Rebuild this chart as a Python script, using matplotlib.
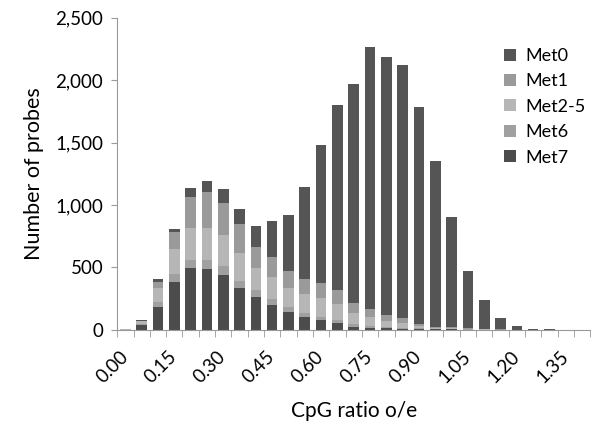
import matplotlib
matplotlib.use("Agg")
import matplotlib.pyplot as plt
import numpy as np

plt.rcParams['font.family'] = ['Lato', 'DejaVu Sans']

# CpG ratio bins, 0.00 .. 1.40 step 0.05
bins = ["%.2f" % (0.05 * i) for i in range(29)]

# stacked counts per bin (bottom -> top: Met7, Met6, Met2-5, Met1, Met0)
met7 = [2, 40, 187, 387, 493, 485, 440, 333, 267, 200, 147, 100, 77, 53, 27, 19,
        12, 10, 6, 4, 3, 2, 1, 1, 0, 0, 0, 0, 0]
met6 = [0, 8, 35, 60, 70, 75, 70, 60, 50, 45, 40, 35, 30, 25, 20, 15,
        10, 8, 5, 3, 2, 1, 1, 0, 0, 0, 0, 0, 0]
met25 = [1, 20, 110, 200, 250, 260, 250, 220, 180, 180, 150, 150, 150, 130, 90, 70,
         50, 35, 20, 10, 8, 5, 3, 1, 1, 0, 0, 0, 0]
met1 = [0, 6, 55, 134, 254, 287, 258, 232, 164, 162, 133, 120, 120, 110, 80, 60,
        50, 40, 20, 10, 8, 5, 3, 2, 1, 0, 0, 0, 0]
met0 = [0, 6, 21, 24, 69, 83, 112, 125, 169, 286, 454, 740, 1103, 1482, 1756, 2106,
        2068, 2027, 1736, 1325, 885, 459, 232, 92, 30, 10, 8, 0, 0]

series = [("Met7", met7, "#4c4c4c"),
          ("Met6", met6, "#a0a0a0"),
          ("Met2-5", met25, "#b6b6b6"),
          ("Met1", met1, "#9a9a9a"),
          ("Met0", met0, "#555555")]

fig = plt.figure(figsize=(5.95, 4.24), dpi=100)
ax = fig.add_axes([0.197, 0.222, 0.795, 0.736])

x = np.arange(len(bins))
bottom = np.zeros(len(bins))
handles = []
for name, vals, col in series:
    b = ax.bar(x, vals, width=0.65, bottom=bottom, color=col, label=name)
    bottom += np.array(vals)
    handles.append(b)

ax.set_xlim(-0.5, len(bins) - 0.5)
ax.set_ylim(0, 2500)
ax.set_yticks([0, 500, 1000, 1500, 2000, 2500])
ax.set_yticklabels(["0", "500", "1,000", "1,500", "2,000", "2,500"], fontsize=13.5)

ax.set_xticks(x[::3])
ax.set_xticklabels(bins[::3], rotation=45, ha='right', va='center',
                   rotation_mode='anchor', fontsize=13.5)
ax.set_xticks(np.arange(-0.5, len(bins)), minor=True)
ax.tick_params(axis='x', which='major', length=0, pad=17)
ax.tick_params(axis='x', which='minor', length=5, color='#999999')
ax.tick_params(axis='y', length=4, color='#999999', pad=6)

for s in ['top', 'right']:
    ax.spines[s].set_visible(False)
for s in ['left', 'bottom']:
    ax.spines[s].set_color('#999999')

ax.set_ylabel("Number of probes", fontsize=15.5, labelpad=8)
ax.set_xlabel("CpG ratio o/e", fontsize=15, labelpad=11)

ax.legend(handles[::-1], [s[0] for s in series][::-1], loc='upper left',
          bbox_to_anchor=(504 / 595, 1 - 48 / 424), bbox_transform=fig.transFigure,
          frameon=False, fontsize=13, handlelength=0.65, handleheight=0.65,
          handletextpad=0.55, labelspacing=0.52, borderaxespad=0, borderpad=0)

fig.savefig("out.png", dpi=100)
